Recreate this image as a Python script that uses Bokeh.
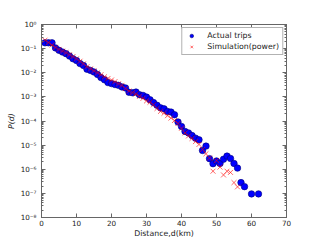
from bokeh.plotting import figure
from bokeh.models import (LogAxis, LinearAxis, FixedTicker, LogTicker,
                          CustomJSTickFormatter, Legend, LegendItem, ColumnDataSource)
from bokeh.embed import file_html
from bokeh.resources import INLINE

# ---- data ----
actual_distance = [1, 2, 3, 4, 5, 6, 7, 8, 9, 10, 11, 12, 13, 14, 15, 16, 17, 18, 19, 20,
                   21, 22, 23, 24, 25, 26, 27, 28, 29, 30, 31, 32, 33, 34, 35, 36, 37, 38, 39, 40,
                   41, 42, 43, 44, 45, 46, 47, 48, 49, 50, 51, 52, 53, 54, 55, 56, 57, 58, 60, 62]
actual_prob = [1.74e-1, 1.74e-1, 1.74e-1, 1.07e-1, 8.5e-2, 7.2e-2, 6.2e-2, 4.9e-2, 3.8e-2, 3.2e-2,
               2.4e-2, 2.0e-2, 1.4e-2, 1.25e-2, 1.07e-2, 8.5e-3, 6.3e-3, 5.1e-3, 3.9e-3, 3.55e-3,
               3.24e-3, 3.0e-3, 2.57e-3, 2.34e-3, 1.55e-3, 1.48e-3, 1.58e-3, 1.23e-3, 1.15e-3, 9.8e-4,
               7.6e-4, 5.8e-4, 4.5e-4, 3.5e-4, 3.2e-4, 2.5e-4, 2.34e-4, 1.82e-4, 9.1e-5, 5.9e-5,
               3.7e-5, 3.2e-5, 2.5e-5, 1.95e-5, 1.66e-5, 6.0e-6, 9.1e-6, 2.75e-6, 1.7e-6, 2.2e-6,
               1.74e-6, 2.6e-6, 3.5e-6, 2.8e-6, 1.74e-6, 1.12e-6, 2.8e-7, 1.9e-7, 9.5e-8, 9.5e-8]

sim_distance = [1, 2, 3, 4, 5, 6, 7, 8, 9, 10, 11, 12, 13, 14, 15, 16, 17, 18, 19, 20,
                21, 22, 23, 24, 25, 26, 27, 28, 29, 30, 31, 32, 33, 34, 35, 36, 37, 38, 39, 40,
                41, 42, 43, 44, 45, 46, 47, 48, 49, 50, 51, 52, 53, 54, 55, 56]
sim_prob = [2.24e-1, 1.78e-1, 1.41e-1, 1.12e-1, 9.3e-2, 7.9e-2, 6.8e-2, 5.6e-2, 4.7e-2, 3.8e-2,
            3.0e-2, 2.34e-2, 1.78e-2, 1.45e-2, 1.2e-2, 1.0e-2, 8.3e-3, 6.8e-3, 5.8e-3, 5.0e-3,
            4.3e-3, 3.5e-3, 3.0e-3, 2.2e-3, 1.74e-3, 1.5e-3, 1.32e-3, 1.05e-3, 8.7e-4, 6.8e-4,
            6.0e-4, 4.7e-4, 3.3e-4, 2.5e-4, 2.1e-4, 1.66e-4, 1.32e-4, 1.05e-4, 7.9e-5, 5.0e-5,
            3.2e-5, 2.4e-5, 1.9e-5, 1.4e-5, 1.07e-5, 6.6e-6, 4.4e-6, 2.9e-6, 8.3e-7, 2.3e-6,
            1.23e-6, 5.8e-7, 8.3e-7, 7.4e-7, 2.8e-7, 1.86e-7]

x_ticks = [0, 10, 20, 30, 40, 50, 60, 70]
series_names = ["Actual trips", "Simulation(power)"]
x_label = "Distance,d(km)"
y_label = "P(d)"

FONT = "DejaVu Sans"
FRAME = "#666666"

p = figure(frame_width=245, frame_height=193, x_range=(0, 70), y_range=(1e-8, 1),
           y_axis_type="log", output_backend="svg", toolbar_location=None,
           min_border_left=41, min_border_right=18, min_border_top=24, min_border_bottom=4)
p.xgrid.visible = False
p.ygrid.visible = False
p.outline_line_color = FRAME
p.outline_line_width = 1
p.background_fill_color = "white"
p.border_fill_color = "white"

src_a = ColumnDataSource(dict(x=actual_distance, y=actual_prob))
src_s = ColumnDataSource(dict(x=sim_distance, y=sim_prob))

r_a = p.scatter("x", "y", source=src_a, marker="circle", size=6.5,
                fill_color="#0000ff", line_color="#00007a", line_width=0.6)
r_s = p.scatter("x", "y", source=src_s, marker="x", size=7,
                line_color="#ff0000", line_alpha=0.6, line_width=1)

sup = "const s={'-':'\u207b','0':'\u2070','1':'\u00b9','2':'\u00b2','3':'\u00b3','4':'\u2074','5':'\u2075','6':'\u2076','7':'\u2077','8':'\u2078','9':'\u2079'};"
y_fmt = CustomJSTickFormatter(code=sup + """
const e = Math.round(Math.log10(tick));
return '10' + String(e).split('').map(c => s[c]).join('');
""")
blank = CustomJSTickFormatter(code="return '';")


def style(ax, minor=True):
    ax.axis_line_color = FRAME
    ax.major_tick_in = 4
    ax.major_tick_out = 0
    ax.major_tick_line_color = FRAME
    if minor:
        ax.minor_tick_in = 2
        ax.minor_tick_out = 0
        ax.minor_tick_line_color = FRAME
    else:
        ax.minor_tick_line_color = None
    ax.major_label_text_font = FONT
    ax.major_label_text_font_size = "7.2px"
    ax.major_label_text_color = "#222222"
    ax.axis_label_text_font = FONT
    ax.axis_label_text_font_size = "7.8px"
    ax.axis_label_text_color = "#222222"
    ax.axis_label_text_font_style = "normal"


xax = p.xaxis[0]
xax.ticker = FixedTicker(ticks=x_ticks)
style(xax, minor=False)
xax.major_label_standoff = 2
xax.axis_label = x_label
xax.axis_label_standoff = 0

yax = p.yaxis[0]
yax.ticker = LogTicker(num_minor_ticks=10)
yax.formatter = y_fmt
style(yax)
yax.major_label_standoff = 5
yax.axis_label = y_label
yax.axis_label_text_font_style = "italic"
yax.axis_label_standoff = 2

top = LinearAxis(ticker=FixedTicker(ticks=x_ticks), formatter=blank)
style(top, minor=False)
top.major_label_standoff = 0
p.add_layout(top, "above")

right = LogAxis(ticker=LogTicker(num_minor_ticks=10), formatter=blank)
style(right)
right.major_label_standoff = 0
p.add_layout(right, "right")

legend = Legend(items=[LegendItem(label=series_names[0], renderers=[r_a]),
                       LegendItem(label=series_names[1], renderers=[r_s])],
                location="top_right")
legend.margin = 3
legend.padding = 3
legend.spacing = 2
legend.glyph_width = 12
legend.glyph_height = 9
legend.label_height = 9
legend.label_standoff = 10
legend.label_text_font = FONT
legend.label_text_font_size = "7.8px"
legend.label_text_color = "#222222"
legend.border_line_color = FRAME
legend.border_line_width = 1
legend.background_fill_alpha = 1
p.add_layout(legend)

open("out.html", "w").write(file_html(p, INLINE))
